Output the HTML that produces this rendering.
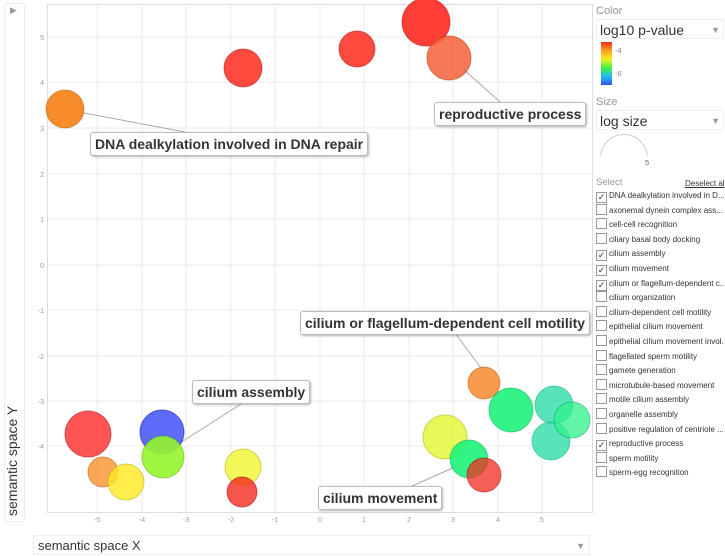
<!DOCTYPE html>
<html><head><style>
body{margin:0;width:725px;height:556px;background:#fff;font-family:"Liberation Sans",Arial,sans-serif;overflow:hidden;position:relative}
.lbl{position:absolute;background:#fff;border:1px solid #bbb;border-radius:3px;box-shadow:1px 1px 2px rgba(0,0,0,.3);font-weight:bold;font-size:14px;letter-spacing:0px;color:#333;padding:2px 4px;white-space:nowrap;line-height:18px}
.side{position:absolute;left:596px;font-size:11px;color:#999}
.sel{position:absolute;left:596px;width:128px;font-size:8px;color:#333;white-space:nowrap;overflow:hidden}
.sel div{height:14.6px;line-height:14.6px;overflow:hidden;text-overflow:clip}
.cb{display:inline-block;width:9px;height:9px;border:1px solid #999;margin-right:2px;vertical-align:-2px;font-size:9px;line-height:9px;text-align:center}
</style></head><body>
<div style="position:absolute;left:4px;top:3px;width:19px;height:517px;border:1px solid #eee;border-radius:3px"></div>
<div style="position:absolute;left:10px;top:5px;font-size:9px;color:#999">▶</div>
<div style="position:absolute;left:4px;top:516px;transform:rotate(-90deg);transform-origin:0 0;font-size:14px;color:#333;white-space:nowrap">semantic space Y</div>
<svg style="position:absolute;left:0;top:0" width="596" height="530">
<g stroke="#ebebeb" stroke-width="1">
<line x1="97" y1="4" x2="97" y2="512"/><line x1="142" y1="4" x2="142" y2="512"/><line x1="186" y1="4" x2="186" y2="512"/><line x1="231" y1="4" x2="231" y2="512"/><line x1="275" y1="4" x2="275" y2="512"/><line x1="320" y1="4" x2="320" y2="512"/><line x1="364" y1="4" x2="364" y2="512"/><line x1="409" y1="4" x2="409" y2="512"/><line x1="453" y1="4" x2="453" y2="512"/><line x1="498" y1="4" x2="498" y2="512"/><line x1="542" y1="4" x2="542" y2="512"/>
<line x1="47" y1="37" x2="592" y2="37"/><line x1="47" y1="82" x2="592" y2="82"/><line x1="47" y1="128" x2="592" y2="128"/><line x1="47" y1="174" x2="592" y2="174"/><line x1="47" y1="219" x2="592" y2="219"/><line x1="47" y1="265" x2="592" y2="265"/><line x1="47" y1="310" x2="592" y2="310"/><line x1="47" y1="356" x2="592" y2="356"/><line x1="47" y1="401" x2="592" y2="401"/><line x1="47" y1="446" x2="592" y2="446"/>
</g>
<rect x="47.5" y="4.5" width="545" height="508" fill="none" stroke="#ddd"/>
<g font-size="7" fill="#999" text-anchor="middle">
<text x="97" y="522">-5</text><text x="142" y="522">-4</text><text x="186" y="522">-3</text><text x="231" y="522">-2</text><text x="275" y="522">-1</text><text x="320" y="522">0</text><text x="364" y="522">1</text><text x="409" y="522">2</text><text x="453" y="522">3</text><text x="498" y="522">4</text><text x="542" y="522">5</text>
</g>
<g font-size="7" fill="#999" text-anchor="end">
<text x="44" y="40">5</text><text x="44" y="85">4</text><text x="44" y="131">3</text><text x="44" y="177">2</text><text x="44" y="222">1</text><text x="44" y="268">0</text><text x="44" y="313">-1</text><text x="44" y="359">-2</text><text x="44" y="404">-3</text><text x="44" y="449">-4</text>
</g>
<g stroke="#aaa" stroke-width="1">
<line x1="500" y1="102" x2="462" y2="68"/><line x1="84" y1="113" x2="185" y2="132"/><line x1="455" y1="333" x2="484" y2="372"/><line x1="244" y1="402" x2="180" y2="443"/><line x1="410" y1="487" x2="466" y2="462"/>
</g>
<g stroke-opacity=".5" stroke-width="1">
<circle cx="426" cy="22" r="24" fill="#ff2a1f" fill-opacity=".9" stroke="#a00"/>
<circle cx="357" cy="49" r="18" fill="#ff2a1f" fill-opacity=".85" stroke="#a00"/>
<circle cx="243" cy="68" r="19" fill="#ff2a1f" fill-opacity=".85" stroke="#a00"/>
<circle cx="449" cy="58" r="22" fill="#f5603a" fill-opacity=".85" stroke="#a30"/>
<circle cx="65" cy="109" r="19" fill="#f8861f" fill-opacity=".95" stroke="#a50"/>
<circle cx="484" cy="383" r="16" fill="#f88a2e" fill-opacity=".85" stroke="#a50"/>
<circle cx="511" cy="410" r="22" fill="#1ef27a" fill-opacity=".9" stroke="#0a5"/>
<circle cx="554" cy="405" r="19" fill="#2edcaa" fill-opacity=".8" stroke="#0a7"/>
<circle cx="551" cy="441" r="19" fill="#2edcaa" fill-opacity=".8" stroke="#0a7"/>
<circle cx="572" cy="420" r="18" fill="#2ef28a" fill-opacity=".75" stroke="#0a5"/>
<circle cx="445" cy="437" r="22" fill="#e0f520" fill-opacity=".75" stroke="#aa0"/>
<circle cx="469" cy="459" r="19" fill="#1ef27a" fill-opacity=".9" stroke="#0a5"/>
<circle cx="484" cy="475" r="17" fill="#f52a1f" fill-opacity=".75" stroke="#a00"/>
<circle cx="88" cy="434" r="23" fill="#ff2a2a" fill-opacity=".8" stroke="#a00"/>
<circle cx="162" cy="432" r="22" fill="#2838f5" fill-opacity=".75" stroke="#00a"/>
<circle cx="163" cy="457" r="21" fill="#96f52a" fill-opacity=".9" stroke="#5a0"/>
<circle cx="103" cy="472" r="15" fill="#f88a1f" fill-opacity=".75" stroke="#a50"/>
<circle cx="126" cy="482" r="18" fill="#ffe81f" fill-opacity=".8" stroke="#aa0"/>
<circle cx="243" cy="467" r="18" fill="#eef520" fill-opacity=".75" stroke="#aa0"/>
<circle cx="242" cy="492" r="15" fill="#f52a1f" fill-opacity=".8" stroke="#a00"/>
</g>
</svg>
<div class="lbl" style="left:434px;top:102px">reproductive process</div>
<div class="lbl" style="left:90px;top:132px">DNA dealkylation involved in DNA repair</div>
<div class="lbl" style="left:300px;top:311px">cilium or flagellum-dependent cell motility</div>
<div class="lbl" style="left:192px;top:380px">cilium assembly</div>
<div class="lbl" style="left:318px;top:486px">cilium movement</div>
<div style="position:absolute;left:33px;top:535px;width:557px;height:20px;border:1px solid #eee;font-size:13px;color:#333;line-height:20px;padding-left:4px;box-sizing:border-box">semantic space X<span style="position:absolute;right:4px;color:#999;font-size:9px">▼</span></div>
<div class="side" style="top:5px">Color</div>
<div style="position:absolute;left:596px;top:19px;width:128px;height:20px;border:1px solid #eee;font-size:14px;color:#333;line-height:20px;padding-left:3px;box-sizing:border-box">log10 p-value<span style="position:absolute;right:3px;color:#999;font-size:9px">▼</span></div>
<div style="position:absolute;left:601px;top:42px;width:11px;height:43px;background:linear-gradient(#f52a1f,#f8a020,#f5f020,#40f040,#20c0f0,#3050f5)"></div>
<div style="position:absolute;left:615px;top:46px;font-size:7.5px;color:#888">-4</div>
<div style="position:absolute;left:615px;top:69px;font-size:7.5px;color:#888">-6</div>
<div class="side" style="top:96px">Size</div>
<div style="position:absolute;left:596px;top:110px;width:128px;height:20px;border:1px solid #eee;font-size:14px;color:#333;line-height:20px;padding-left:3px;box-sizing:border-box">log size<span style="position:absolute;right:3px;color:#999;font-size:9px">▼</span></div>
<div style="position:absolute;left:600px;top:134px;width:46px;height:46px;border:1px solid #ccc;border-radius:50%;clip-path:inset(0 0 55% 0)"></div>
<div style="position:absolute;left:645px;top:158px;font-size:7.5px;color:#666">5</div>
<div class="side" style="top:177px;font-size:9.5px">Select</div>
<div style="position:absolute;left:685px;top:179px;font-size:8px;color:#333;text-decoration:underline;white-space:nowrap">Deselect al</div>
<div class="sel" style="top:189px">
<div><span class="cb">✓</span>DNA dealkylation involved in D...</div>
<div><span class="cb"></span>axonemal dynein complex ass...</div>
<div><span class="cb"></span>cell-cell recognition</div>
<div><span class="cb"></span>ciliary basal body docking</div>
<div><span class="cb">✓</span>cilium assembly</div>
<div><span class="cb">✓</span>cilium movement</div>
<div><span class="cb">✓</span>cilium or flagellum-dependent c...</div>
<div><span class="cb"></span>cilium organization</div>
<div><span class="cb"></span>cilium-dependent cell motility</div>
<div><span class="cb"></span>epithelial cilium movement</div>
<div><span class="cb"></span>epithelial cilium movement invol...</div>
<div><span class="cb"></span>flagellated sperm motility</div>
<div><span class="cb"></span>gamete generation</div>
<div><span class="cb"></span>microtubule-based movement</div>
<div><span class="cb"></span>motile cilium assembly</div>
<div><span class="cb"></span>organelle assembly</div>
<div><span class="cb"></span>positive regulation of centriole ...</div>
<div><span class="cb">✓</span>reproductive process</div>
<div><span class="cb"></span>sperm motility</div>
<div><span class="cb"></span>sperm-egg recognition</div>
</div>
</body></html>
